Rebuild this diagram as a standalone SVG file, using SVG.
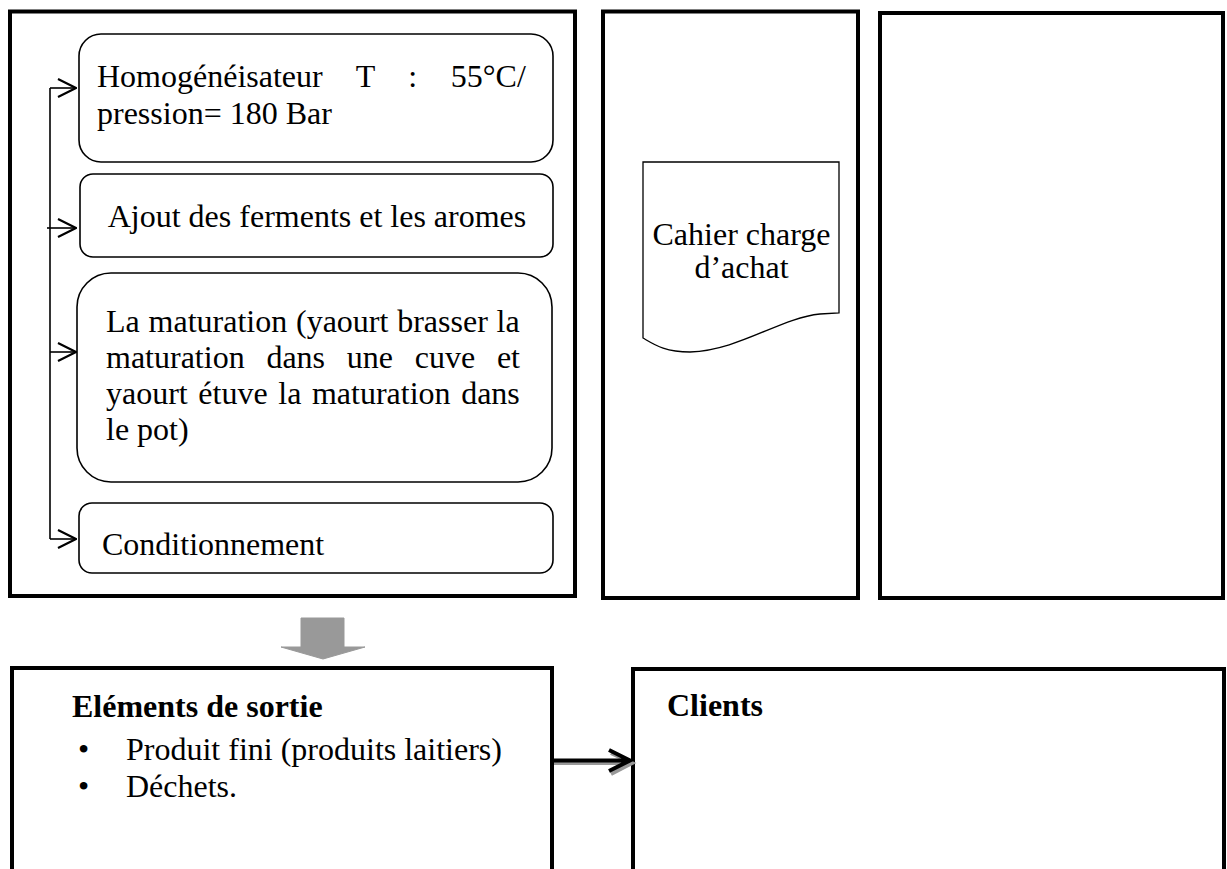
<svg xmlns="http://www.w3.org/2000/svg" width="1227" height="869" viewBox="0 0 1227 869">
<style>
.outer{fill:none;stroke:#000;stroke-width:4}
.inner{fill:none;stroke:#000;stroke-width:1.6}
.t{font-family:"Liberation Serif","Times New Roman",serif;font-size:32px;fill:#000}
.b{font-weight:bold}
.con{fill:none;stroke:#000;stroke-width:1.6}
</style>
<defs>
<marker id="chev" markerWidth="20" markerHeight="20" viewBox="0 0 20 20" refX="19" refY="10" orient="auto" markerUnits="userSpaceOnUse">
<path d="M1,1 L19,10 L1,19" fill="none" stroke="#000" stroke-width="2.2"/>
</marker>
</defs>
<rect x="0" y="0" width="1227" height="869" fill="#fff"/>

<g id="process-box">
<rect class="outer" x="10" y="11.5" width="565" height="584.5"/>
</g>
<g id="homogeneisateur">
<rect class="inner" x="79" y="34" width="474" height="128" rx="22"/>
<text class="t" x="97" y="87" word-spacing="25.6">Homogénéisateur T : 55°C/</text>
<text class="t" x="97" y="124">pression= 180 Bar</text>
</g>
<g id="ajout">
<rect class="inner" x="80" y="174" width="473" height="83" rx="13"/>
<text class="t" x="317" y="227" text-anchor="middle">Ajout des ferments et les aromes</text>
</g>
<g id="maturation">
<rect class="inner" x="77" y="273" width="475" height="209" rx="34"/>
<text class="t" x="106" y="332" word-spacing="0.8">La maturation (yaourt brasser la</text>
<text class="t" x="106" y="368" word-spacing="13.75">maturation dans une cuve et</text>
<text class="t" x="106" y="404" word-spacing="2.6">yaourt étuve la maturation dans</text>
<text class="t" x="106" y="440">le pot)</text>
</g>
<g id="conditionnement">
<rect class="inner" x="79" y="503" width="474" height="70" rx="13"/>
<text class="t" x="102" y="555">Conditionnement</text>
</g>

<g id="documents-box">
<rect class="outer" x="603" y="11.5" width="255" height="586.5"/>
</g>
<g id="cahier-charge">
<path d="M643,162 L839,162 L839,313 L820,314 C780,318 740,350 690,352 C665,352 655,345 643,338 Z" fill="none" stroke="#000" stroke-width="1.3"/>
<text class="t" x="741.5" y="245" text-anchor="middle">Cahier charge</text>
<text class="t" x="741.5" y="278" text-anchor="middle">d’achat</text>
</g>

<g id="empty-box">
<rect class="outer" x="880" y="13" width="343" height="585"/>
</g>

<g id="elements-sortie">
<rect class="outer" x="12" y="668" width="540" height="230"/>
<text class="t b" x="72" y="717">Eléments de sortie</text>
<text class="t" x="78" y="760">•</text>
<text class="t" x="126" y="760">Produit fini (produits laitiers)</text>
<text class="t" x="78" y="797">•</text>
<text class="t" x="126" y="797">Déchets.</text>
</g>

<g id="clients">
<rect class="outer" x="633" y="669" width="591" height="230"/>
<text class="t b" x="667" y="716">Clients</text>
</g>

<g id="connectors">
<path class="con" d="M50,88 L50,539"/>
<path class="con" d="M50,88 L76,88" marker-end="url(#chev)"/>
<path class="con" d="M47,228 L76,228" marker-end="url(#chev)"/>
<path class="con" d="M50,352 L76,352" marker-end="url(#chev)"/>
<path class="con" d="M50,539 L76,539" marker-end="url(#chev)"/>
<polygon points="301,618 344,618 344,647 365,647 323,659 281,647 301,647" fill="#999" stroke="#999" stroke-width="1" stroke-linejoin="round"/>
<path d="M554,763 L631,763 M611,753 L632,763 L611,774" fill="none" stroke="#999" stroke-width="4"/>
<path d="M553,760.5 L629,760.5 M609,750 L630,760.5 L609,771" fill="none" stroke="#000" stroke-width="4"/>
</g>
</svg>
